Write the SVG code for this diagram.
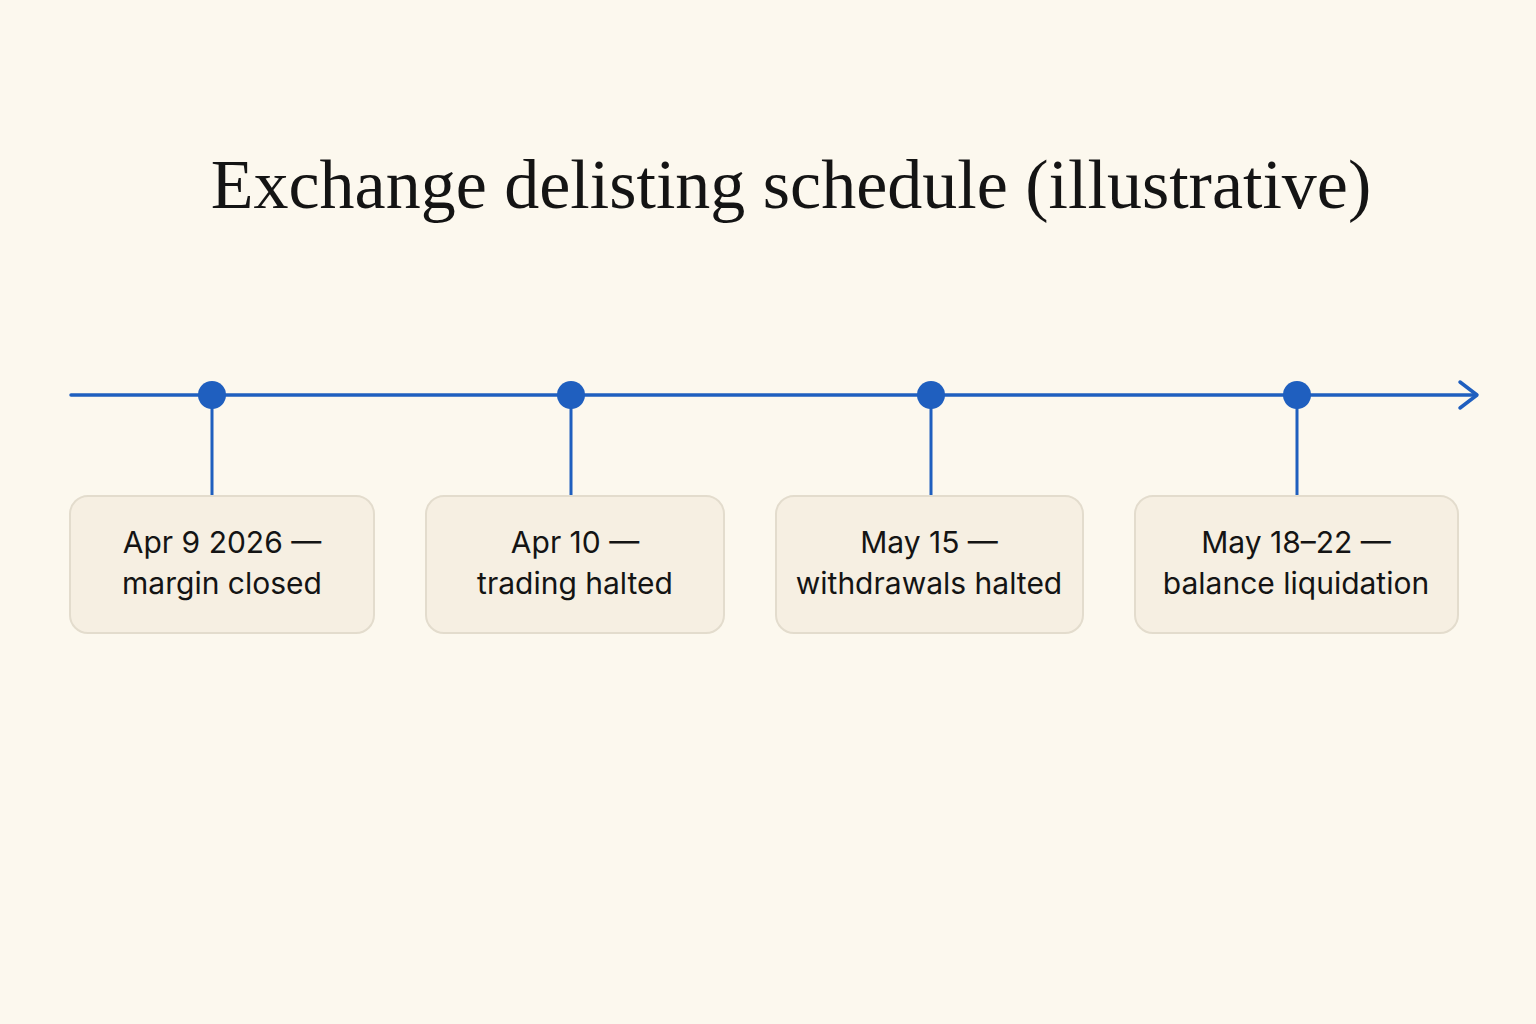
<svg xmlns="http://www.w3.org/2000/svg" width="1536" height="1024" viewBox="0 0 1536 1024">
<style>
.title{font-family:"Liberation Serif","DejaVu Serif",serif;font-size:70px;fill:#141414;text-anchor:middle}
.box{fill:#f6efe2;stroke:#e3dccd;stroke-width:2}
.lbl{font-family:Inter,"Noto Sans","Liberation Sans",sans-serif;font-size:30px;fill:#141414;text-anchor:middle}
.ln{stroke:#1f5fbf;stroke-width:3.5;fill:none;stroke-linecap:round}
.stem{stroke:#1f5fbf;stroke-width:3;fill:none}
.dot{fill:#1f5fbf}
</style>
<rect width="1536" height="1024" fill="#fcf8ee"/>
<text class="title" x="791" y="208">Exchange delisting schedule (illustrative)</text>
<g id="connectors">
<line class="ln" x1="71" y1="395" x2="1476" y2="395"/>
<polyline class="ln" points="1460,382 1477,395 1460,408" stroke-linejoin="round"/>
<line class="stem" x1="212" y1="395" x2="212" y2="496"/>
<line class="stem" x1="571" y1="395" x2="571" y2="496"/>
<line class="stem" x1="931" y1="395" x2="931" y2="496"/>
<line class="stem" x1="1297" y1="395" x2="1297" y2="496"/>
</g>
<g id="node1">
<circle class="dot" cx="212" cy="395" r="14"/>
<rect class="box" x="70" y="496" width="304" height="137" rx="18"/>
<text class="lbl" x="222" y="553">Apr 9 2026 —</text>
<text class="lbl" x="222" y="594">margin closed</text>
</g>
<g id="node2">
<circle class="dot" cx="571" cy="395" r="14"/>
<rect class="box" x="426" y="496" width="298" height="137" rx="18"/>
<text class="lbl" x="575" y="553">Apr 10 —</text>
<text class="lbl" x="575" y="594">trading halted</text>
</g>
<g id="node3">
<circle class="dot" cx="931" cy="395" r="14"/>
<rect class="box" x="776" y="496" width="307" height="137" rx="18"/>
<text class="lbl" x="929" y="553">May 15 —</text>
<text class="lbl" x="929" y="594">withdrawals halted</text>
</g>
<g id="node4">
<circle class="dot" cx="1297" cy="395" r="14"/>
<rect class="box" x="1135" y="496" width="323" height="137" rx="18"/>
<text class="lbl" x="1296" y="553">May 18–22 —</text>
<text class="lbl" x="1296" y="594">balance liquidation</text>
</g>
</svg>
